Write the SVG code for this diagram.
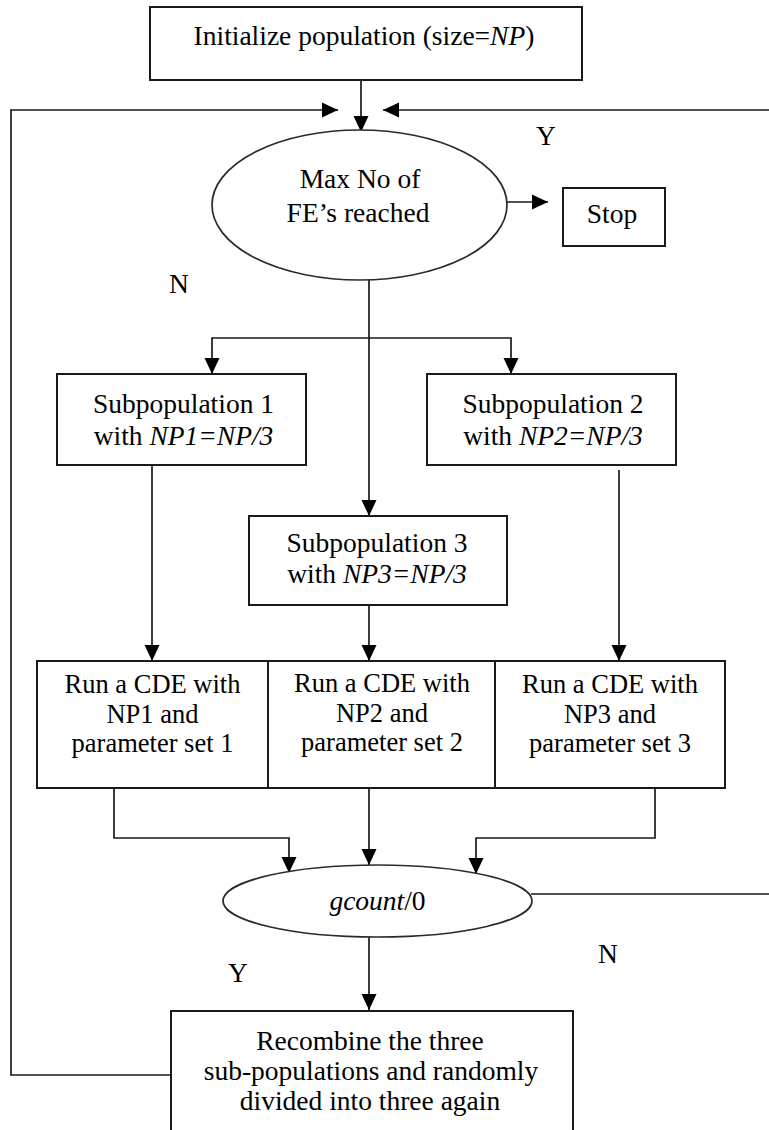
<svg xmlns="http://www.w3.org/2000/svg" width="769" height="1130" viewBox="0 0 769 1130">
<style>
  .box { fill: #ffffff; stroke: #1a1a1a; stroke-width: 2; }
  .ell { fill: #ffffff; stroke: #2a2a2a; stroke-width: 1.7; }
  .ln { fill: none; stroke: #1a1a1a; stroke-width: 1.7; }
  text { font-family: 'Liberation Serif', 'DejaVu Serif', serif; font-size: 27.5px; fill: #000; text-anchor: middle; }
  .r { font-size: 26.5px; }
  .i { font-style: italic; }
</style>
<defs>
  <marker id="ah" markerUnits="userSpaceOnUse" markerWidth="16" markerHeight="16" viewBox="0 0 16 16" refX="16" refY="8" orient="auto">
    <path d="M0,0.5 L16,8 L0,15.5 z" fill="#000"/>
  </marker>
</defs>
<rect width="769" height="1130" fill="#ffffff"/>

<g id="connectors">
  <line class="ln" x1="361" y1="80" x2="361" y2="132" marker-end="url(#ah)"/>
  <polyline class="ln" points="171,1075 11,1075 11,110 338,110" marker-end="url(#ah)"/>
  <polyline class="ln" points="531,894 772,894 772,110 383,110" marker-end="url(#ah)"/>
  <line class="ln" x1="507" y1="202" x2="548" y2="202" marker-end="url(#ah)"/>
  <line class="ln" x1="369" y1="280" x2="369" y2="516" marker-end="url(#ah)"/>
  <polyline class="ln" points="369,338 212,338 212,374" marker-end="url(#ah)"/>
  <polyline class="ln" points="369,338 511,338 511,374" marker-end="url(#ah)"/>
  <line class="ln" x1="152" y1="465" x2="152" y2="661" marker-end="url(#ah)"/>
  <line class="ln" x1="369" y1="605" x2="369" y2="661" marker-end="url(#ah)"/>
  <line class="ln" x1="619" y1="470" x2="619" y2="661" marker-end="url(#ah)"/>
  <polyline class="ln" points="114,788 114,838 289,838 289,873" marker-end="url(#ah)"/>
  <line class="ln" x1="369" y1="788" x2="369" y2="865" marker-end="url(#ah)"/>
  <polyline class="ln" points="655,788 655,838 476,838 476,874" marker-end="url(#ah)"/>
  <line class="ln" x1="369" y1="937" x2="369" y2="1010" marker-end="url(#ah)"/>
</g>

<g id="nodes" font-family="'Liberation Serif', 'DejaVu Serif', serif">
<g id="init">
  <rect class="box" x="150" y="7" width="432" height="73"/>
  <text x="364" y="45">Initialize population (size=<tspan class="i">NP</tspan>)</text>
</g>

<g id="maxfe">
  <ellipse class="ell" cx="359.5" cy="205" rx="147.5" ry="75"/>
  <text x="360" y="188">Max No of</text>
  <text x="358" y="222">FE’s reached</text>
</g>

<g id="stop">
  <rect class="box" x="563" y="188" width="102" height="58"/>
  <text x="612" y="223">Stop</text>
</g>

<g id="labels">
  <text x="546" y="145">Y</text>
  <text x="179" y="293">N</text>
  <text x="238" y="982">Y</text>
  <text x="608" y="963">N</text>
</g>

<g id="sub1">
  <rect class="box" x="57" y="374" width="249" height="91"/>
  <text x="183.5" y="413">Subpopulation 1</text>
  <text x="183.5" y="445">with <tspan class="i">NP1=NP/3</tspan></text>
</g>

<g id="sub2">
  <rect class="box" x="427" y="374" width="249" height="91"/>
  <text x="553" y="413">Subpopulation 2</text>
  <text x="553" y="445">with <tspan class="i">NP2=NP/3</tspan></text>
</g>

<g id="sub3">
  <rect class="box" x="249" y="516" width="258" height="89"/>
  <text x="377" y="552">Subpopulation 3</text>
  <text x="377" y="583">with <tspan class="i">NP3=NP/3</tspan></text>
</g>

<g id="run1">
  <rect class="box" x="37" y="661" width="231" height="127"/>
  <text class="r" x="152.5" y="693">Run a CDE with</text>
  <text class="r" x="152.5" y="723">NP1 and</text>
  <text class="r" x="152.5" y="752">parameter set 1</text>
</g>

<g id="run2">
  <rect class="box" x="268" y="661" width="227" height="127"/>
  <text class="r" x="382" y="692">Run a CDE with</text>
  <text class="r" x="382" y="722">NP2 and</text>
  <text class="r" x="382" y="751">parameter set 2</text>
</g>

<g id="run3">
  <rect class="box" x="495" y="661" width="230" height="127"/>
  <text class="r" x="610" y="693">Run a CDE with</text>
  <text class="r" x="610" y="723">NP3 and</text>
  <text class="r" x="610" y="752">parameter set 3</text>
</g>

<g id="gcount">
  <ellipse class="ell" cx="377.5" cy="901" rx="154.5" ry="36"/>
  <text x="377.5" y="910"><tspan class="i">gcount</tspan>/0</text>
</g>

<g id="recombine">
  <rect class="box" x="171" y="1011" width="402" height="135"/>
  <text x="370" y="1050">Recombine the three</text>
  <text x="371" y="1080">sub-populations and randomly</text>
  <text x="370" y="1110">divided into three again</text>
</g>
</g>
</svg>
